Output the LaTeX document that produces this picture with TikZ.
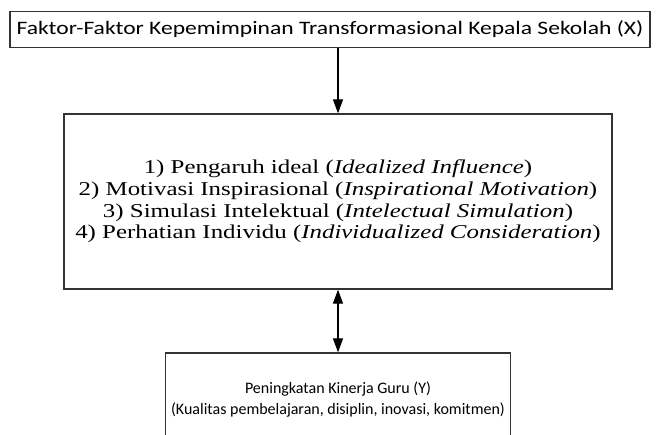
\documentclass[tikz,border=0pt]{standalone}
\usepackage{fontspec}
\setmainfont[FakeStretch=1.27]{Liberation Serif}
\newfontfamily\calibri[FakeStretch=1.24]{Carlito}
\newfontfamily\calibrikecil{Carlito}
\usetikzlibrary{arrows.meta}

\begin{document}
\begin{tikzpicture}[x=1pt,y=-1pt,
  kotak/.style={draw=black!80, line width=1.3pt, inner sep=0pt, align=center},
  panah/.style={line width=1.2pt, -{Triangle[width=10pt,length=14pt]}},
  panahdua/.style={line width=1.2pt, {Triangle[width=10pt,length=14pt]}-{Triangle[width=10pt,length=14pt]}}]
\useasboundingbox (0,0) rectangle (656,435);

\node [kotak, minimum width=640, minimum height=36, font=\calibri\fontsize{19}{22}\selectfont] (faktor) at (330,29.5)
  {Faktor-Faktor Kepemimpinan Transformasional Kepala Sekolah (X)};

\node [kotak, minimum width=548, minimum height=175, font=\fontsize{19.6}{21.7}\selectfont] (dimensi) at (338,201.5)
  {1) Pengaruh ideal (\textit{Idealized Influence})\\
   2) Motivasi Inspirasional (\textit{Inspirational Motivation})\\
   3) Simulasi Intelektual (\textit{Intelectual Simulation})\\
   4) Perhatian Individu (\textit{Individualized Consideration})};

\node [kotak, minimum width=345, minimum height=94, font=\calibrikecil\fontsize{16}{21}\selectfont] (kinerja) at (338,400)
  {Peningkatan Kinerja Guru (Y)\\
   (Kualitas pembelajaran, disiplin, inovasi, komitmen)};

\draw [panah] (faktor.south -| dimensi.north) -- (dimensi.north);
\draw [panahdua] (dimensi.south) -- (kinerja.north);

\end{tikzpicture}
\end{document}
